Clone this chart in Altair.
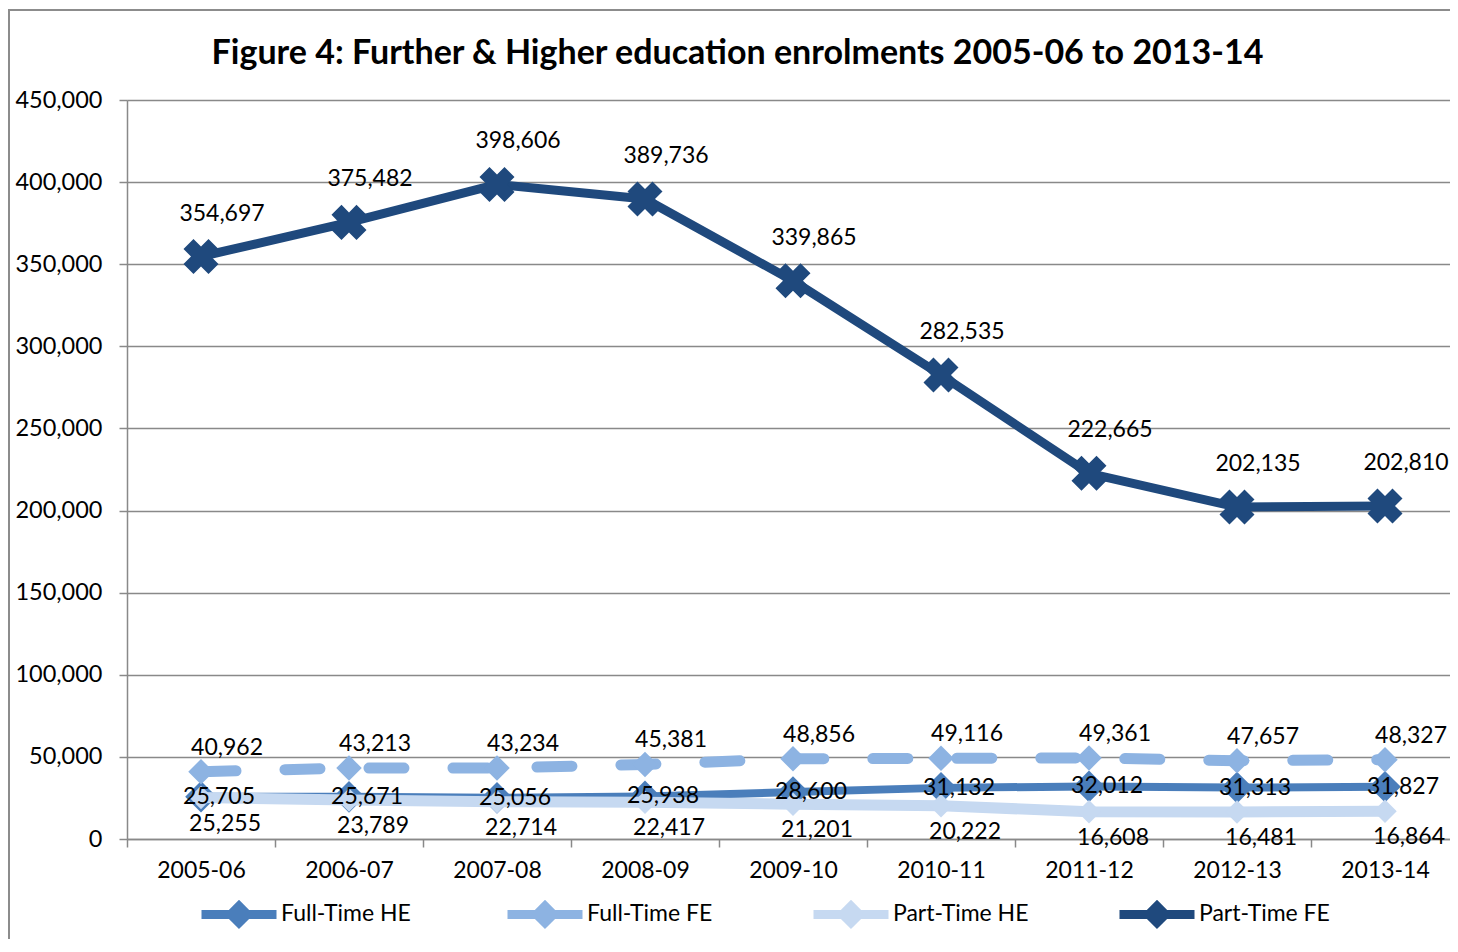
import altair as alt
import pandas as pd

years = ["2005-06", "2006-07", "2007-08", "2008-09", "2009-10",
         "2010-11", "2011-12", "2012-13", "2013-14"]
series_names = ["Full-Time HE", "Full-Time FE", "Part-Time HE", "Part-Time FE"]
full_time_he = [25705, 25671, 25056, 25938, 28600, 31132, 32012, 31313, 31827]
full_time_fe = [40962, 43213, 43234, 45381, 48856, 49116, 49361, 47657, 48327]
part_time_he = [25255, 23789, 22714, 22417, 21201, 20222, 16608, 16481, 16864]
part_time_fe = [354697, 375482, 398606, 389736, 339865, 282535, 222665, 202135, 202810]
y_ticks = list(range(0, 450001, 50000))
title_text = "Figure 4: Further & Higher education enrolments 2005-06 to 2013-14"

values = {
    "Full-Time HE": full_time_he,
    "Full-Time FE": full_time_fe,
    "Part-Time HE": part_time_he,
    "Part-Time FE": part_time_fe,
}
rows = []
for s in series_names:
    for y, v in zip(years, values[s]):
        rows.append({"year": y, "series": s, "value": v})
df = pd.DataFrame(rows)

colors = {
    "Full-Time HE": "#4a7ebb",
    "Full-Time FE": "#8db3e2",
    "Part-Time HE": "#c6d9f1",
    "Part-Time FE": "#1f497d",
}
style = {
    "Full-Time HE": dict(width=8, dash=None, shape="diamond", size=1000, angle=0, dx=18, dy=0),
    "Full-Time FE": dict(width=11, dash=[35, 49], shape="diamond", size=650, angle=0, dx=26, dy=-24),
    "Part-Time HE": dict(width=11, dash=None, shape="diamond", size=550, angle=0, dx=24, dy=26),
    "Part-Time FE": dict(width=9, dash=None, shape="cross", size=1250, angle=45, dx=21, dy=-43),
}

FONT = "Lato"
GRID = "#898989"

x_enc = alt.X(
    "year:N", sort=years,
    scale=alt.Scale(type="band", paddingInner=0, paddingOuter=0, range=[0, 1332]),
    axis=alt.Axis(title=None, labelAngle=0, tickBand="extent", grid=False,
                  tickSize=8, tickColor=GRID, tickWidth=1.5,
                  domainColor=GRID, domainWidth=1.5,
                  labelPadding=12, labelFontSize=23, labelFont=FONT,
                  labelColor="black"),
)
y_enc = alt.Y(
    "value:Q", scale=alt.Scale(domain=[0, 450000], nice=False),
    axis=alt.Axis(title=None, values=y_ticks, format=",d", grid=True,
                  gridColor=GRID, gridWidth=1.5, tickSize=8, tickColor=GRID,
                  tickWidth=1.5, domainColor=GRID, domainWidth=1.5,
                  labelPadding=17, labelFontSize=23.5, labelFont=FONT,
                  labelColor="black"),
)
color_enc = alt.Color(
    "series:N",
    scale=alt.Scale(domain=series_names, range=[colors[s] for s in series_names]),
    legend=alt.Legend(
        title=None, orient="none", legendX=70, legendY=772,
        direction="horizontal", columns=4, gridAlign="all", columnPadding=72,
        labelFontSize=23, labelFont=FONT, labelColor="black", labelOffset=0,
        symbolType="M-1,0L1,0M-0.22,0L0,-0.22L0.22,0L0,0.22Z",
        symbolSize=5625, symbolStrokeWidth=9, padding=0,
    ),
)

base = alt.Chart(df)

border = alt.Chart(df).mark_rect(fill="transparent", stroke="#8c8c8c", strokeWidth=2).encode(
    x=alt.value(-118), x2=alt.value(1500), y=alt.value(-90), y2=alt.value(1000)
)

layers = [border]
for s in series_names:
    st = style[s]
    sub = base.transform_filter(alt.datum.series == s)
    line_kwargs = dict(strokeWidth=st["width"], strokeJoin="round", strokeCap="round")
    if st["dash"]:
        line_kwargs["strokeDash"] = st["dash"]
    layers.append(sub.mark_line(**line_kwargs).encode(x=x_enc, y=y_enc, color=color_enc))
    layers.append(sub.mark_point(filled=True, opacity=1, shape=st["shape"], size=st["size"],
                                 angle=st["angle"], color=colors[s]).encode(x=x_enc, y=y_enc))
for s in series_names:
    st = style[s]
    sub = base.transform_filter(alt.datum.series == s)
    layers.append(sub.mark_text(font=FONT, fontSize=23, color="black", dx=st["dx"], dy=st["dy"],
                                align="center", baseline="middle").encode(
        x=x_enc, y=y_enc, text=alt.Text("value:Q", format=",")))

chart = alt.layer(*layers).properties(
    width=1323, height=739,
    padding={"left": 119, "top": 92, "right": 0, "bottom": 100},
    autosize=alt.AutoSizeParams(type="none"),
    title=alt.Title(title_text, fontSize=34, font=FONT, fontWeight="bold", anchor="middle",
                    dx=-51, offset=0, dy=89, baseline="alphabetic", color="black"),
).configure_view(strokeWidth=0).configure(background="white")

chart.save("out.html", embed_options={"renderer": "svg", "actions": False})
